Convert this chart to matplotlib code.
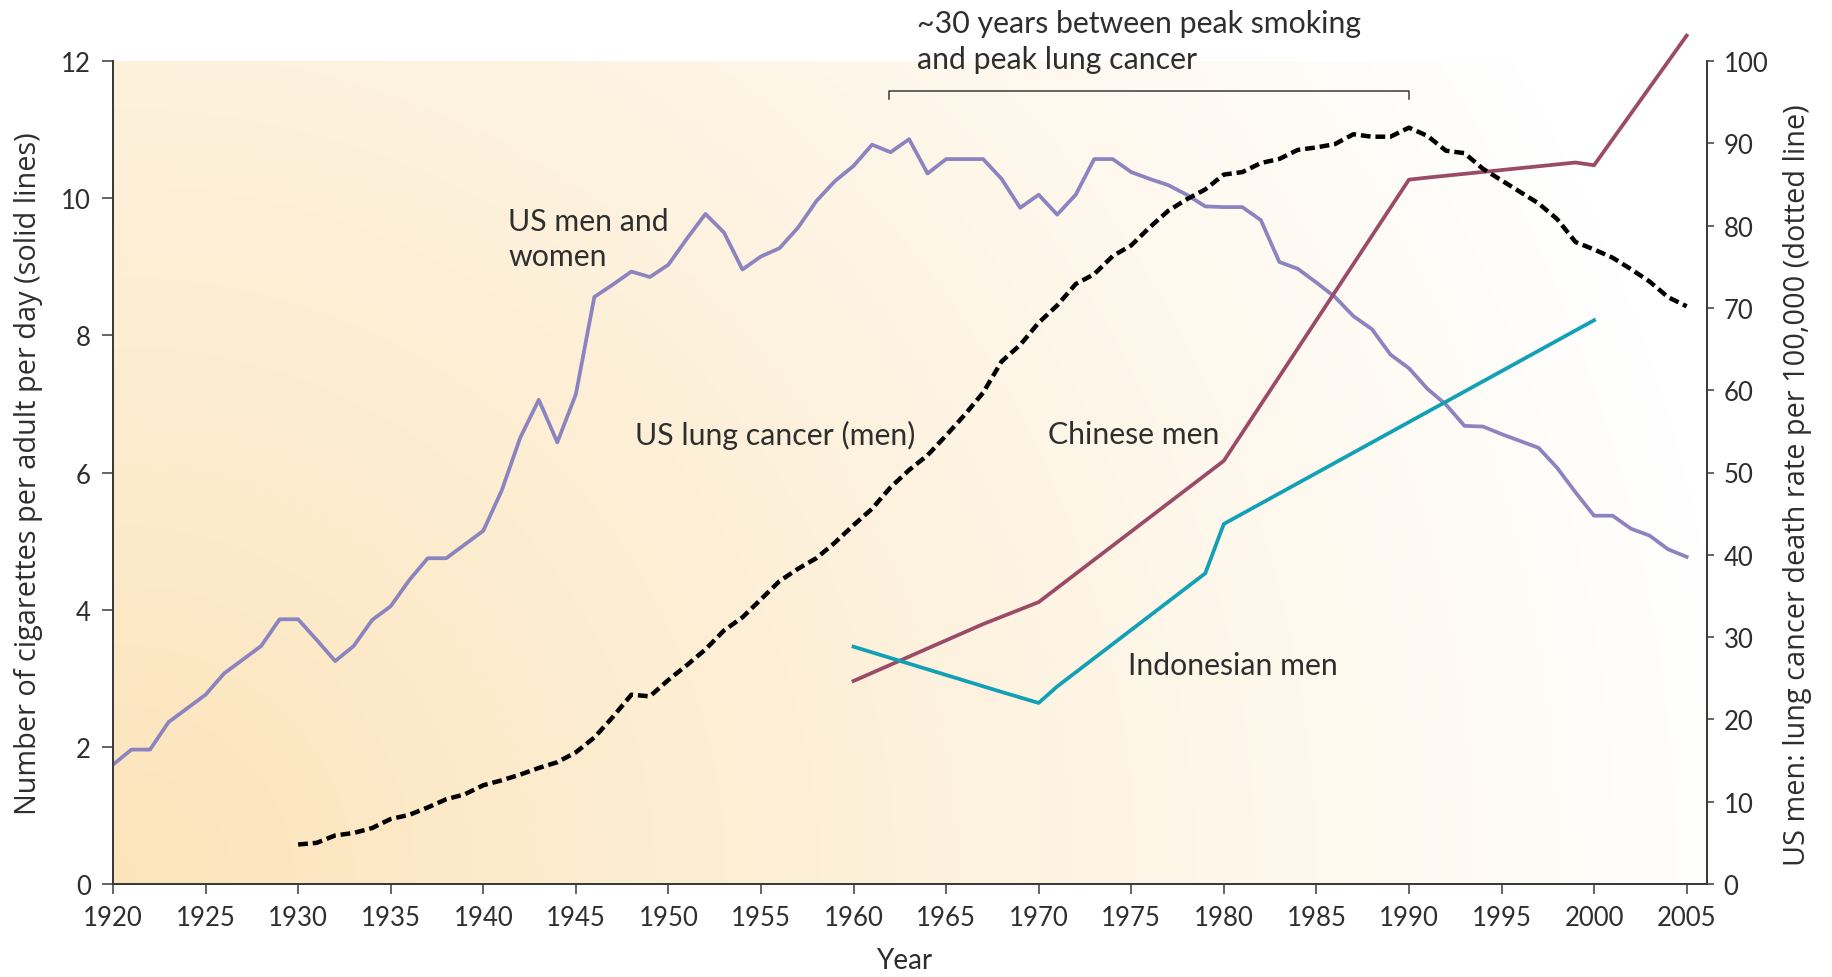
import numpy as np
import matplotlib
matplotlib.use('Agg')
import matplotlib.pyplot as plt

# US men and women, cigarettes per adult per day (left axis)
years = np.arange(1920, 2006)
us_cigs = [1.74, 1.96, 1.96, 2.36, 2.56, 2.76, 3.07, 3.27, 3.47, 3.86,
           3.86, 3.56, 3.25, 3.47, 3.85, 4.05, 4.43, 4.75, 4.75, 4.95,
           5.15, 5.74, 6.51, 7.06, 6.44, 7.14, 8.56, 8.74, 8.93, 8.85,
           9.03, 9.41, 9.77, 9.50, 8.96, 9.15, 9.27, 9.57, 9.96, 10.25,
           10.47, 10.78, 10.67, 10.86, 10.36, 10.57, 10.57, 10.57, 10.28, 9.86,
           10.05, 9.76, 10.05, 10.57, 10.57, 10.38, 10.28, 10.19, 10.05, 9.88,
           9.87, 9.87, 9.68, 9.07, 8.97, 8.77, 8.56, 8.28, 8.09, 7.72,
           7.52, 7.22, 6.99, 6.68, 6.67, 6.56, 6.46, 6.36, 6.07, 5.71,
           5.37, 5.37, 5.18, 5.08, 4.88, 4.77]

# US men lung cancer death rate per 100,000 (right axis)
lung_years = np.arange(1930, 2006)
us_lung = [4.8, 5.0, 5.9, 6.2, 6.8, 7.9, 8.4, 9.3, 10.3, 10.9,
           12.0, 12.6, 13.3, 14.1, 14.8, 16.0, 17.8, 20.3, 23.0, 22.8,
           24.8, 26.6, 28.5, 30.8, 32.4, 34.6, 36.8, 38.3, 39.6, 41.5,
           43.6, 45.6, 48.2, 50.3, 52.1, 54.5, 57.0, 59.7, 63.5, 65.5,
           68.2, 70.3, 72.9, 74.1, 76.3, 77.6, 79.8, 81.8, 83.2, 84.4,
           86.2, 86.5, 87.6, 88.1, 89.2, 89.5, 89.9, 91.1, 90.8, 90.8,
           91.9, 90.9, 89.1, 88.8, 86.9, 85.5, 84.1, 82.7, 80.8, 78.0,
           77.1, 76.1, 74.7, 73.2, 71.3, 70.2]

# Chinese men, cigarettes per adult per day
china_years = [1960, 1967, 1970, 1980, 1990, 1991, 1999, 2000, 2005]
china_cigs = [2.96, 3.79, 4.11, 6.17, 10.27, 10.30, 10.52, 10.48, 12.37]

# Indonesian men, cigarettes per adult per day
indo_years = [1960, 1968, 1970, 1971, 1979, 1980, 2000]
indo_cigs = [3.46, 2.80, 2.64, 2.88, 4.53, 5.25, 8.22]

xticks = list(range(1920, 2006, 5))
left_ticks = list(range(0, 13, 2))
right_ticks = list(range(0, 101, 10))

text_col = '#2e2e2e'
lab_font = 'Lato'
axis_font = 'Open Sans'

fig = plt.figure(figsize=(18.33, 9.78), dpi=100)
ax = fig.add_axes([113 / 1833, 1 - 885 / 978, 1594 / 1833, 823 / 978])
ax2 = ax.twinx()

# warm gradient background, orange in lower-left corner fading to white
gx, gy = np.meshgrid(np.linspace(0, 1, 400), np.linspace(0, 1, 200))
d = np.sqrt(gx ** 2 + (gy * 0.52) ** 2)
m = np.clip(d / 1.02, 0, 1)[..., None]
c0 = np.array([252, 228, 186]) / 255.0
bg = c0 + (1 - c0) * m
ax.imshow(bg, extent=[0, 1, 0, 1], transform=ax.transAxes, origin='lower',
          aspect='auto', zorder=0, interpolation='bilinear')

ax.plot(years, us_cigs, color='#8b84c0', lw=2.7, zorder=3)
ax.plot(china_years, china_cigs, color='#9b4b68', lw=2.7, zorder=3, clip_on=False)
ax.plot(indo_years, indo_cigs, color='#11a0b6', lw=2.7, zorder=3)
ax2.plot(lung_years, us_lung, color='black', lw=3.2, linestyle=(0, (2.2, 1.1)), zorder=4)

ax.set_xlim(1920, 2006.1)
ax.set_ylim(0, 12)
ax2.set_ylim(0, 100)

for a in (ax, ax2):
    a.spines['top'].set_visible(False)
    for s in ('left', 'right', 'bottom'):
        a.spines[s].set_color('#3a3a3a')
        a.spines[s].set_linewidth(1.3)

ax.set_xticks(xticks)
ax.set_yticks(left_ticks)
ax2.set_yticks(right_ticks)
ax.tick_params(axis='x', direction='out', length=7, width=1.1, color='#3a3a3a',
               labelsize=18.5, labelcolor=text_col, pad=8)
ax.tick_params(axis='y', direction='out', length=8, width=1.1, color='#3a3a3a',
               labelsize=18.5, labelcolor=text_col, pad=8)
ax2.tick_params(axis='y', direction='out', length=5, width=1.1, color='#3a3a3a',
                labelsize=18.5, labelcolor=text_col, pad=7)
for lab in ax.get_xticklabels() + ax.get_yticklabels() + ax2.get_yticklabels():
    lab.set_family(lab_font)

ax.set_xlabel('Year', family=lab_font, fontsize=20, color=text_col, va='center')
ax.xaxis.set_label_coords(0.496, -0.092)
ax.set_ylabel('Number of cigarettes per adult per day (solid lines)', family=axis_font,
              fontsize=20.8, color=text_col, va='center')
ax.yaxis.set_label_coords(-0.0527, 0.5)
ax2.set_ylabel('US men: lung cancer death rate per 100,000 (dotted line)', family=axis_font,
               fontsize=20.8, color=text_col, va='center', rotation=90)
ax2.yaxis.set_label_coords(1.0565, 0.486)

# series labels
kw = dict(family=lab_font, fontsize=21.8, color=text_col, ha='left', va='center', zorder=5)
ax.text(1941.35, 9.66, 'US men and', **kw)
ax.text(1941.35, 9.15, 'women', **kw)
ax.text(1948.2, 6.56, 'US lung cancer (men)', **kw)
ax.text(1970.5, 6.56, 'Chinese men', **kw)
ax.text(1974.8, 3.20, 'Indonesian men', **kw)

# bracket between peaks
ax.text(1963.45, 12.56, '~30 years between peak smoking', clip_on=False, **kw)
ax.text(1963.45, 12.03, 'and peak lung cancer', clip_on=False, **kw)
ax.plot([1961.9, 1961.9, 1990.0, 1990.0], [11.45, 11.56, 11.56, 11.45],
        color='#3a3a3a', lw=1.1, zorder=5)

fig.savefig('out.png', dpi=100)
